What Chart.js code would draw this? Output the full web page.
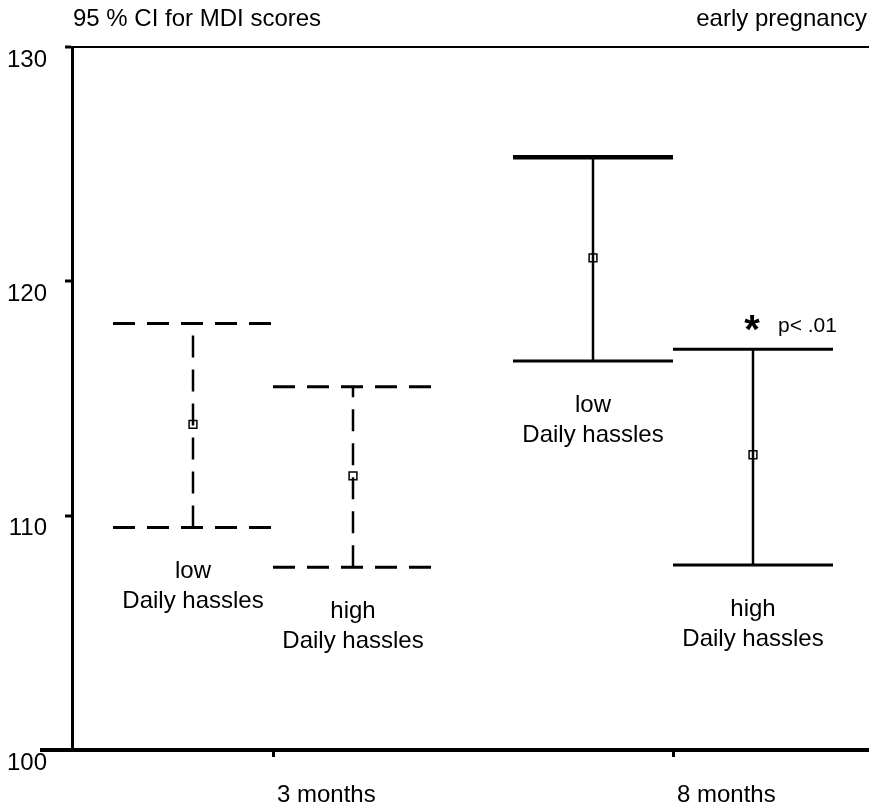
<!DOCTYPE html>
<html>
<head>
<meta charset="utf-8">
<script src="https://cdn.jsdelivr.net/npm/chart.js@4.4.1/dist/chart.umd.min.js"></script>
<style>
  html, body { margin: 0; padding: 0; background: #fff; }
  #wrap { width: 869px; height: 808px; }
</style>
</head>
<body>
<div id="wrap"><canvas id="myChart"></canvas></div>
<script>
// data
const timeLabels = ['3 months', '8 months'];
const timeValues = [3, 8];
const groups = ['low', 'high', 'low', 'high'];
const groupTime = [3, 3, 8, 8];
const groupSide = [-1, 1, -1, 1];       // low left of tick, high right of tick
const means = [113.9, 111.7, 121.0, 112.6];
const lower = [109.5, 107.8, 116.6, 107.9];
const upper = [118.2, 115.5, 125.3, 117.1];
const yTicks = [100, 110, 120, 130];

const FONT = "'Liberation Sans', Arial, sans-serif";
const myChart = document.getElementById('myChart');

// build one line per cap / whisker
const datasets = [];
for (let i = 0; i < groups.length; i++) {
  const x = groupTime[i] + groupSide[i];
  const dash = groupTime[i] === 3 ? [22, 12] : [];
  const base = {
    type: 'line', showLine: true, pointRadius: 0, borderColor: '#000',
    borderWidth: 3, borderDash: dash, borderCapStyle: 'butt', fill: false
  };
  datasets.push(Object.assign({}, base, {
    data: [{x: x - 1, y: upper[i]}, {x: x + 1, y: upper[i]}],
    borderWidth: (i === 2) ? 4.5 : 3
  }));
  datasets.push(Object.assign({}, base, {
    data: [{x: x - 1, y: lower[i]}, {x: x + 1, y: lower[i]}]
  }));
  datasets.push(Object.assign({}, base, {
    data: [{x: x, y: lower[i]}, {x: x, y: upper[i]}],
    borderWidth: 2.5
  }));
}
// mean markers
datasets.push({
  type: 'scatter',
  data: means.map((m, i) => ({x: groupTime[i] + groupSide[i], y: m})),
  pointStyle: 'rect', pointRadius: 5.5, pointBorderWidth: 1.5,
  pointBackgroundColor: '#fff', pointBorderColor: '#000'
});

// texts: heading, group labels, significance mark
const textPlugin = {
  id: 'texts',
  afterDatasetsDraw(chart) {
    const ctx = chart.ctx;
    const xs = chart.scales.x, ys = chart.scales.y;
    const area = chart.chartArea;
    ctx.save();
    ctx.fillStyle = '#000';
    ctx.textBaseline = 'alphabetic';

    ctx.font = '24px ' + FONT;
    ctx.textAlign = 'left';
    ctx.fillText('95 % CI for MDI scores', area.left + 1, 26);
    ctx.textAlign = 'right';
    ctx.fillText('early pregnancy', 867, 26);

    ctx.textAlign = 'center';
    ctx.font = '24px ' + FONT;
    for (let i = 0; i < groups.length; i++) {
      const px = xs.getPixelForValue(groupTime[i] + groupSide[i]);
      const py = ys.getPixelForValue(lower[i]);
      ctx.fillText(groups[i], px, py + 51);
      ctx.fillText('Daily hassles', px, py + 81);
    }

    // * p< .01 above the 8 month high group
    const sx = xs.getPixelForValue(groupTime[3] + groupSide[3]);
    const sy = ys.getPixelForValue(upper[3]);
    ctx.font = 'bold 40px ' + FONT;
    ctx.fillText('*', sx - 1, sy - 6);
    ctx.font = '21px ' + FONT;
    ctx.textAlign = 'left';
    ctx.fillText('p< .01', sx + 25, sy - 17);

    // the x axis line runs a bit left of the y axis
    ctx.strokeStyle = '#000';
    ctx.lineWidth = 4;
    ctx.beginPath();
    ctx.moveTo(40, area.bottom);
    ctx.lineTo(area.left, area.bottom);
    ctx.stroke();
    ctx.restore();
  }
};

new Chart(myChart, {
  type: 'scatter',
  data: { datasets: datasets },
  options: {
    responsive: true,
    maintainAspectRatio: false,
    animation: false,
    layout: { autoPadding: false, padding: { top: 47, left: 0, right: 0, bottom: 0 } },
    plugins: { legend: { display: false }, tooltip: { enabled: false } },
    scales: {
      x: {
        type: 'linear',
        min: 0.4875,
        max: 10.45,
        afterBuildTicks: (scale) => { scale.ticks = timeValues.map(v => ({value: v})); },
        afterFit: (scale) => { scale.height = 58; },
        ticks: {
          color: '#000',
          font: { family: FONT, size: 24 },
          padding: 24,
          align: 'start',
          labelOffset: 4,
          maxRotation: 0,
          callback: (v) => timeLabels[timeValues.indexOf(v)]
        },
        grid: { drawOnChartArea: false, tickLength: 7, tickColor: '#000', tickWidth: 3 },
        border: { color: '#000', width: 4 }
      },
      y: {
        min: 100,
        max: 130,
        afterBuildTicks: (scale) => { scale.ticks = yTicks.map(v => ({value: v})); },
        afterFit: (scale) => { scale.width = 72; },
        ticks: {
          color: '#000',
          font: { family: FONT, size: 24 },
          padding: 18,
          labelOffset: 13
        },
        grid: {
          color: (c) => (c.tick && c.tick.value === 130) ? '#000' : 'rgba(0,0,0,0)',
          lineWidth: 2,
          tickLength: 7, tickColor: '#000', tickWidth: 3
        },
        border: { color: '#000', width: 3 }
      }
    }
  },
  plugins: [textPlugin]
});
</script>
</body>
</html>
